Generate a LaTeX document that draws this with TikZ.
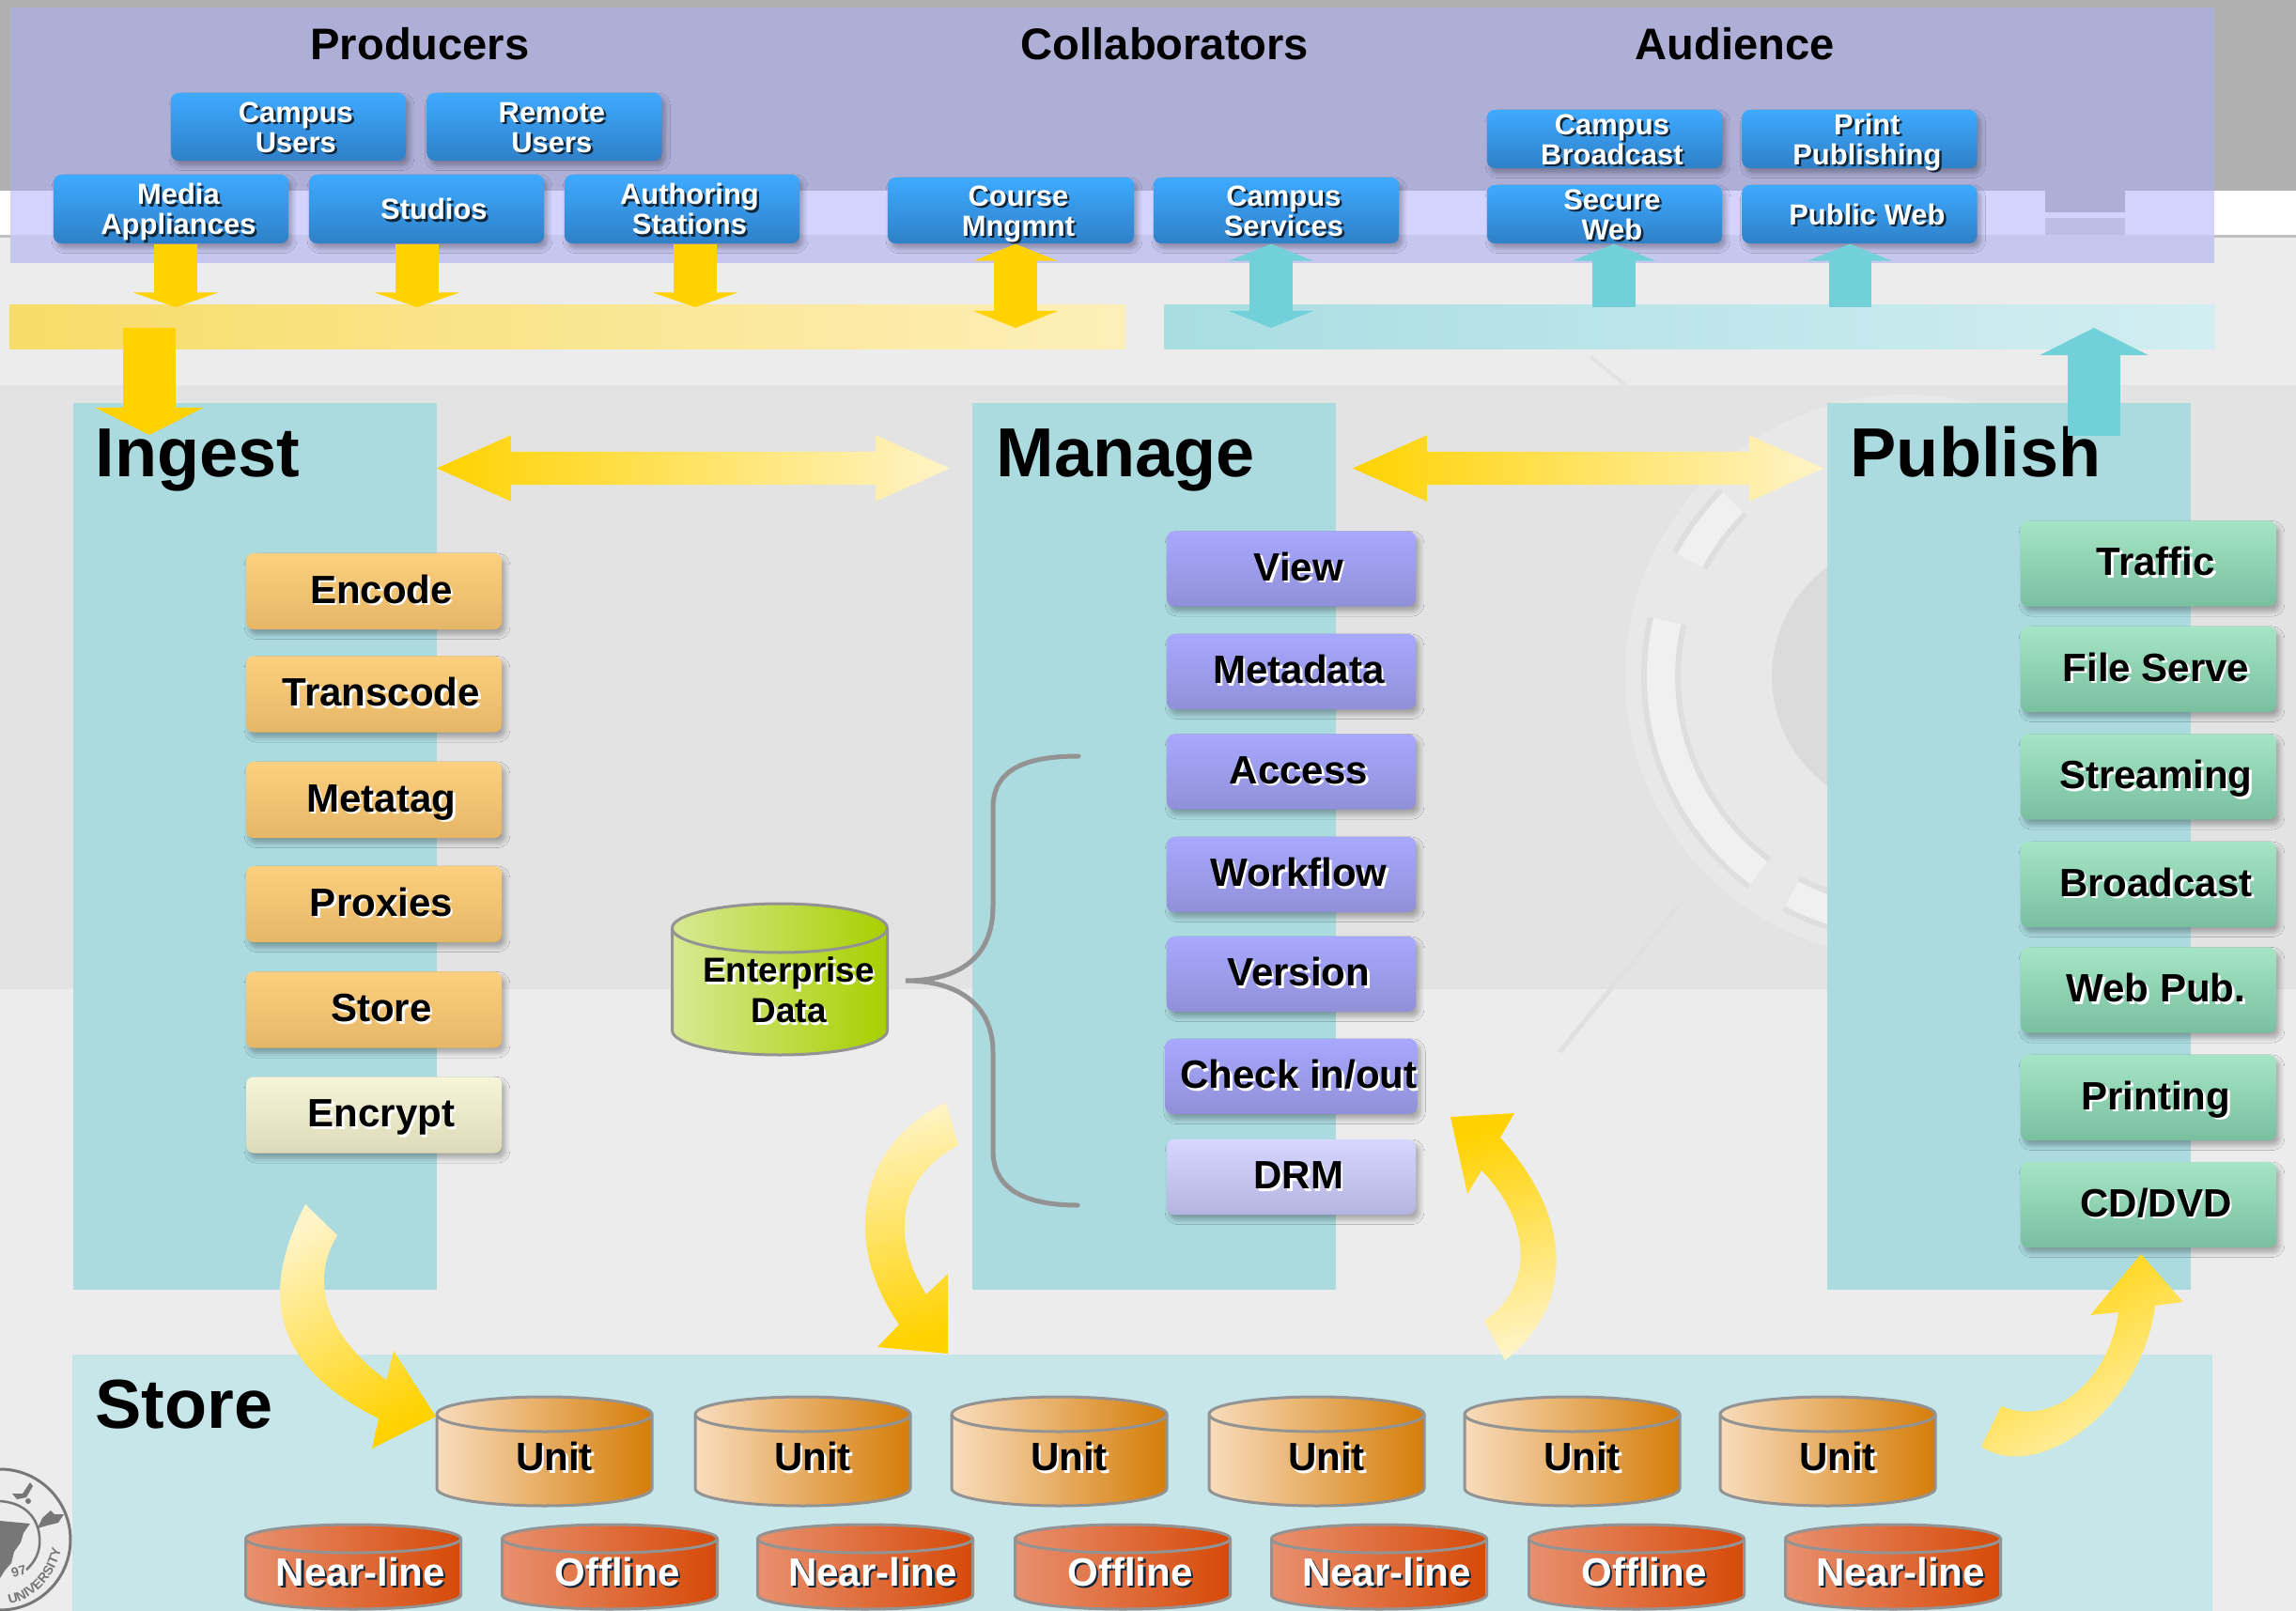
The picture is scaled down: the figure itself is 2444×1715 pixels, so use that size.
\documentclass[tikz,border=0pt]{standalone}
\usepackage{fontspec}
\setmainfont{Liberation Sans}
\usepackage{xcolor}
\usetikzlibrary{arrows.meta, calc, shadows.blur, shapes.arrows, decorations.text}

\definecolor{gold}{HTML}{FFD200}
\definecolor{pale gold}{HTML}{FFF4C8}
\definecolor{teal arrow}{HTML}{72D0D8}
\definecolor{panel teal}{HTML}{ABDADF}
\definecolor{store teal}{HTML}{C6E6E9}
\definecolor{seal gray}{HTML}{777777}
\definecolor{shadow dark}{HTML}{10263A}
\definecolor{page light}{HTML}{ECECEC}
\definecolor{page band}{HTML}{E3E3E3}
\definecolor{group purple}{HTML}{AEAFD7}
\definecolor{group strip}{HTML}{D3D3FD}
\definecolor{group lower}{HTML}{C6C7EF}
\definecolor{group notch}{HTML}{BDBEE5}

\newcommand{\wt}[2][4.5pt]{\leavevmode\rule{0pt}{.73em}\kern #1\smash{\rlap{\raisebox{-.7pt}{\kern .7pt\textcolor{shadow dark}{#2}}}#2}}
\newcommand{\bk}[2][4.5pt]{\leavevmode\rule{0pt}{.61em}\kern #1\smash{\rlap{\raisebox{-.7pt}{\kern .7pt\textcolor{white}{#2}}}#2}}
\newcommand{\can}[5]{
	\shadedraw [can rim, #1] (#2 - 114.5,#3 + #5) arc [start angle = 180, end angle = 360, x radius = 114.5, y radius = #5] -- (#2 + 114.5,#4 - #5) arc [start angle = 0, end angle = 180, x radius = 114.5, y radius = #5] -- cycle;
	\draw [can rim] (#2 - 114.5,#3 + #5) arc [start angle = 180, end angle = 0, x radius = 114.5, y radius = #5];
}

\tikzset{
	rbox/.style = {rectangle, rounded corners = .08cm, inner sep = 0, align = center, text = black, font = \bfseries\fontsize{11.95}{13}\selectfont, blur shadow = {shadow xshift = 1pt, shadow yshift = -1.5pt, shadow opacity = 30, shadow blur radius = 1.5pt, shadow blur steps = 6}},
	user box/.style = {rbox, minimum width = 2.5cm, text = white, font = \bfseries\fontsize{8.8}{9.1}\selectfont, top color = {rgb,255:red,62;green,170;blue,255}, bottom color = {rgb,255:red,47;green,128;blue,200}},
	ingest box/.style = {rbox, minimum width = 2.72cm, minimum height = .81cm, top color = {rgb,255:red,252;green,208;blue,127}, bottom color = {rgb,255:red,230;green,182;blue,103}},
	manage box/.style = {rbox, minimum width = 2.65cm, minimum height = .8cm, top color = {rgb,255:red,168;green,168;blue,255}, bottom color = {rgb,255:red,144;green,144;blue,216}},
	publish box/.style = {rbox, minimum width = 2.72cm, minimum height = .91cm, top color = {rgb,255:red,165;green,229;blue,197}, bottom color = {rgb,255:red,120;green,191;blue,160}},
	panel/.style = {rectangle, fill = panel teal, inner sep = 0, minimum width = 3.87cm, minimum height = 9.44cm},
	group title/.style = {font = \bfseries\fontsize{13.4}{15}\selectfont, inner sep = 0},
	panel title/.style = {anchor = base west, font = \bfseries\fontsize{21}{24}\selectfont, inner sep = 0},
	bar/.style = {rectangle, inner sep = 0, minimum height = .46cm},
	can rim/.style = {draw = gray!85, line width = .03cm},
	can text/.style = {inner sep = 0, align = center, font = \bfseries\fontsize{11.95}{13}\selectfont},
	unit can/.style = {left color = {rgb,255:red,248;green,220;blue,189}, right color = {rgb,255:red,213;green,125;blue,8}},
	tier can/.style = {left color = {rgb,255:red,232;green,144;blue,111}, right color = {rgb,255:red,214;green,74;blue,8}},
	feed/.style = {line width = .45cm, -{Triangle[length = .155cm, width = .9cm]}},
	swap/.style = {line width = .45cm, {Triangle[length = .18cm, width = .89cm]}-{Triangle[length = .18cm, width = .89cm]}},
	drop/.style = {line width = .56cm, -{Triangle[length = .29cm, width = 1.14cm]}},
	trade/.style = {double arrow, double arrow tip angle = 48, double arrow head extend = .175cm, double arrow head indent = 0, inner xsep = 0, inner ysep = .17cm, left color = gold, right color = pale gold},
	sweep/.style = {top color = pale gold, bottom color = gold},
	brace/.style = {draw = gray!85, line width = .05cm, line cap = round},
}

\begin{document}
\begin{tikzpicture}[x = .01cm, y = -.01cm]
	\clip (0,0) rectangle (2444,1715);

	\fill [page light] (0,0) rectangle (2444,1715);
	\fill [page band] (0,410) rectangle (2444,1053);
	\fill [black!9] (2030,720) circle [radius = 300];
	\fill [black!14] (2030,720) circle [radius = 144];
	\foreach \from/\to in {193/127, 225/208, 118/100} {
		\draw [black!13, line width = .42cm] ([shift = {(\from:262)}] 2030,720) arc [start angle = \from, end angle = \to, radius = 262];
		\draw [black!6, line width = .3cm] ([shift = {(\from:262)}] 2030,720) arc [start angle = \from, end angle = \to, radius = 262];
	}
	\draw [black!11, line width = .04cm] (1693,380) -- (1800,465);
	\draw [black!12, line width = .05cm] (1790,960) -- (1660,1120);

	\fill [black!31] (0,0) rectangle (2444,203);
	\fill [white] (0,203) rectangle (2444,250);
	\fill [black!25] (0,250) rectangle (2444,253);
	\fill [group purple] (11,8) rectangle (2357,203);
	\fill [group strip] (11,203) rectangle (2357,250);
	\fill [group purple] (2177,203) rectangle (2262,226);
	\fill [group notch] (2177,232) rectangle (2262,250);
	\fill [group lower] (11,250) rectangle (2357,280);

	\node [bar, minimum width = 11.86cm, left color = {rgb,255:red,247;green,220;blue,104}, right color = {rgb,255:red,253;green,239;blue,184}] (producer bar) at (604,348) {};
	\node [bar, minimum width = 11.17cm, left color = {rgb,255:red,168;green,221;blue,226}, right color = {rgb,255:red,210;green,238;blue,242}] (audience bar) at (1798.5,348) {};

	\node [panel] (ingest panel) at (271.5,901) {};
	\node [panel] (manage panel) at (1228.5,901) {};
	\node [panel] (publish panel) at (2138.5,901) {};
	\node [rectangle, fill = store teal, inner sep = 0, minimum width = 22.76cm, minimum height = 2.73cm] (store panel) at (1216,1578.5) {};

	\draw [seal gray, line width = .03cm] (0,1639) circle [radius = 75];
	\draw [seal gray, line width = .025cm] (0,1598) .. controls (30,1600) and (44,1620) .. (42,1645) .. controls (41,1655) and (36,1664) .. (28,1671);
	\fill [seal gray] (0,1619) -- (32,1622) -- (25,1632) -- (22,1642) -- (15,1652) -- (12,1664) -- (5,1672) -- (0,1680) -- cycle;
	\fill [seal gray] (40,1627) -- (45,1616) -- (54,1608) -- (58,1612) -- (68,1612) -- (62,1621) -- (50,1624) -- cycle;
	\fill [seal gray] (13,1590) -- (24,1590) -- (32,1578) -- (35,1582) -- (28,1594) -- (18,1596) -- cycle;
	\fill [seal gray] (30,1598) circle [radius = 3];
	\path [decorate, decoration = {text along path, text = {|\fontsize{4}{5}\selectfont\bfseries\color{seal gray}|UNIVERSITY}, text align = center}] (6,1708) .. controls (33,1706) and (60,1680) .. (66,1646);
	\node [rotate = 15, text = seal gray, font = \bfseries\fontsize{4}{5}\selectfont, inner sep = 0] (seal year) at (20,1673) {97};

	\node [group title] (producers) at (447,47) {Producers};
	\node [group title] (collaborators) at (1240,47) {Collaborators};
	\node [group title] (audience) at (1847,47) {Audience};

	\node [panel title] (ingest) at (101,507) {Ingest};
	\node [panel title] (manage) at (1060,507) {Manage};
	\node [panel title] (publish) at (1969,507) {Publish};
	\node [panel title] (store) at (101,1520) {Store};

	\node [user box, minimum height = .72cm] (campus users) at (307,135) {\wt{Campus}\\\wt{Users}};
	\node [user box, minimum height = .72cm] (remote users) at (579.5,135) {\wt{Remote}\\\wt{Users}};
	\node [user box, minimum height = .73cm] (media) at (182,222.5) {\wt{Media}\\\wt{Appliances}};
	\node [user box, minimum height = .73cm] (studios) at (454,222.5) {\wt{Studios}};
	\node [user box, minimum height = .73cm] (authoring) at (726,222.5) {\wt{Authoring}\\\wt{Stations}};
	\node [user box, minimum width = 2.62cm, minimum height = .7cm] (course) at (1076,224) {\wt{Course}\\\wt{Mngmnt}};
	\node [user box, minimum width = 2.61cm, minimum height = .7cm] (services) at (1358.5,224) {\wt{Campus}\\\wt{Services}};
	\node [user box, minimum height = .62cm] (broadcast) at (1708,148) {\wt{Campus}\\\wt{Broadcast}};
	\node [user box, minimum height = .62cm] (print) at (1979.5,148) {\wt{Print}\\\wt{Publishing}};
	\node [user box, minimum height = .62cm] (secure web) at (1708,228) {\wt{Secure}\\\wt{Web}};
	\node [user box, minimum height = .62cm] (public web) at (1979.5,228) {\wt{Public Web}};

	\foreach \name/\y/\txt in {encode/629.5/Encode, transcode/739/Transcode, metatag/851.5/Metatag, proxies/962.5/Proxies, store step/1075/Store} {
		\node [ingest box] (\name) at (398,\y) {\bk{\txt}};
	}
	\node [ingest box, top color = {rgb,255:red,246;green,245;blue,216}, bottom color = {rgb,255:red,220;green,218;blue,184}] (encrypt) at (398,1187) {\bk{Encrypt}};

	\foreach \name/\y/\txt in {view/605.5/View, metadata/715/Metadata, access/821.5/Access, workflow/931/Workflow, version/1037/Version, check/1146/{Check in/out}} {
		\node [manage box] (\name) at (1374.5,\y) {\bk{\txt}};
	}
	\node [manage box, top color = {rgb,255:red,214;green,214;blue,255}, bottom color = {rgb,255:red,180;green,180;blue,224}] (drm) at (1374.5,1253) {\bk{DRM}};

	\foreach \name/\y/\txt in {traffic/600/Traffic, file serve/712.5/File Serve, streaming/827/Streaming, broadcast step/941.5/Broadcast, web pub/1054/Web Pub., printing/1168.5/Printing, cd dvd/1282.5/{CD/DVD}} {
		\node [publish box] (\name) at (2287,\y) {\bk{\txt}};
	}

	\foreach \n/\x in {1/579.5, 2/854.5, 3/1127.5, 4/1401.5, 5/1673.5, 6/1945.5} {
		\can{unit can}{\x}{1487}{1603}{18.5}
		\node [can text] (unit \n) at (\x,1553) {\bk[6pt]{Unit}};
	}
	\foreach \n/\x/\txt in {1/376/Near-line, 2/649/Offline, 3/921/Near-line, 4/1195/Offline, 5/1468/Near-line, 6/1742/Offline, 7/2015/Near-line} {
		\can{tier can}{\x}{1623}{1713}{15}
		\node [can text, text = white] (tier \n) at (\x,1673) {\wt{\txt}};
	}
	\can{left color = {rgb,255:red,216;green,232;blue,148}, right color = {rgb,255:red,168;green,208;blue,0}}{830}{962}{1123}{26}
	\node [can text, font = \bfseries\fontsize{10.5}{12.3}\selectfont] (enterprise) at (830,1056) {\bk[5.5pt]{Enterprise}\\\bk[5.5pt]{Data}};

	\coordinate (brace top) at (1148,805);
	\coordinate (brace tip) at (964,1044);
	\coordinate (brace bottom) at (1147,1283);
	\draw [brace] (brace top) .. controls (1090,805) and (1057,820) .. (1057,860) -- (1057,965) .. controls (1057,1020) and (1020,1044) .. (brace tip) .. controls (1020,1044) and (1057,1070) .. (1057,1120) -- (1057,1225) .. controls (1057,1265) and (1090,1283) .. (brace bottom);

	\coordinate (media in) at (187,327);
	\coordinate (studios in) at (444,327);
	\coordinate (authoring in) at (740,327);
	\coordinate (course in) at (1081,349);
	\coordinate (services in) at (1353,349);
	\coordinate (secure out) at (1718,327);
	\coordinate (public out) at (1969,327);
	\coordinate (ingest from) at (159,349);
	\coordinate (ingest to) at (159,463);
	\coordinate (publish from) at (2229,464);
	\coordinate (publish to) at (2229,349);

	\draw [feed, draw = gold] (media in |- media.south) -- (media in);
	\draw [feed, draw = gold] (studios in |- studios.south) -- (studios in);
	\draw [feed, draw = gold] (authoring in |- authoring.south) -- (authoring in);
	\draw [swap, draw = gold] (course in |- course.south) -- (course in);
	\draw [swap, draw = teal arrow] (services in |- services.south) -- (services in);
	\draw [feed, draw = teal arrow, -{Triangle[length = .18cm, width = .89cm]}] (secure out) -- (secure out |- secure web.south);
	\draw [feed, draw = teal arrow, -{Triangle[length = .18cm, width = .89cm]}] (public out) -- (public out |- public web.south);
	\draw [drop, draw = gold] (ingest from) -- (ingest to);
	\draw [drop, draw = teal arrow] (publish from) -- (publish to);

	\node [trade, minimum height = 5.46cm] (ingest manage) at (738,498.5) {};
	\node [trade, minimum height = 5.01cm] (manage publish) at (1690.5,498.5) {};

	\shade [sweep, shading angle = 30] (325,1282) .. controls (280,1370) and (282,1450) .. (403,1510) -- (396,1542) -- (464,1508) -- (419,1438) -- (411.5,1469) .. controls (370,1440) and (320,1380) .. (359,1315) -- cycle;
	\shade [sweep, shading angle = 15] (1007,1174) .. controls (925,1210) and (888,1310) .. (957,1410) -- (934,1434) -- (1009,1441) -- (1009,1356) -- (986,1378) .. controls (955,1330) and (945,1260) .. (1020,1219) -- cycle;
	\shade [sweep, shading angle = 195] (1602,1448) .. controls (1665,1400) and (1686,1310) .. (1597,1211) -- (1612,1185) -- (1544,1189) -- (1562,1271) -- (1577,1246) .. controls (1630,1300) and (1634,1370) .. (1580,1406) -- cycle;
	\shade [sweep, shading angle = 210] (2109,1540) .. controls (2170,1580) and (2280,1500) .. (2294,1390) -- (2324,1386) -- (2279,1335) -- (2225,1400) -- (2255,1397) .. controls (2245,1470) and (2185,1520) .. (2130,1497) -- cycle;
\end{tikzpicture}
\end{document}
